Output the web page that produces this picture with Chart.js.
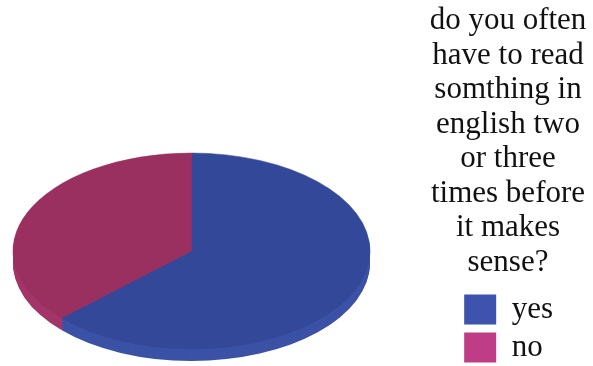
<!DOCTYPE html>
<html>
<head>
<meta charset="utf-8">
<script src="https://cdn.jsdelivr.net/npm/chart.js@4.4.1/dist/chart.umd.min.js"></script>
<style>
  html, body { margin: 0; padding: 0; background: #fff; }
</style>
</head>
<body>
<canvas id="pie_chart" width="593" height="366"></canvas>
<script>
const labels = ['yes', 'no'];
const answers = [63, 37];
const titleLines = ['do you often', 'have to read', 'somthing in', 'english two',
                    'or three', 'times before', 'it makes', 'sense?'];

const faceColors = ['#34489a', '#9a305f'];
const sideColors = ['#3b52a6', '#a3366a'];
const legendColors = ['#3d53ad', '#bf3c86'];

// pick the first serif face the machine actually has
function findSerif() {
  const names = ['Liberation Serif', 'DejaVu Serif', 'Noto Serif', 'Times New Roman',
                 'Tinos', 'FreeSerif', 'Nimbus Roman', 'Georgia'];
  const probe = document.createElement('canvas').getContext('2d');
  const sample = 'do you often have to read 0123';
  probe.font = '40px monospace';
  const mono = probe.measureText(sample).width;
  probe.font = '40px sans-serif';
  const sans = probe.measureText(sample).width;
  for (const name of names) {
    probe.font = '40px "' + name + '", monospace';
    const w1 = probe.measureText(sample).width;
    probe.font = '40px "' + name + '", sans-serif';
    const w2 = probe.measureText(sample).width;
    if (w1 !== mono && w2 !== sans) return '"' + name + '", serif';
  }
  return 'serif';
}

const serif = findSerif();

// squash the pie into an ellipse and give it a little depth
const flatPie = {
  id: 'flatPie',
  beforeDatasetsDraw(chart, args, opts) {
    const ctx = chart.ctx;
    const arcs = chart.getDatasetMeta(0).data;
    const { x, y, outerRadius } = arcs[0];
    const sx = opts.rx / outerRadius;
    const sy = opts.ry / outerRadius;

    // side wall: the slices pushed down one pixel at a time
    for (let k = opts.depth; k > 0; k--) {
      arcs.forEach((arc, i) => {
        ctx.save();
        ctx.translate(opts.cx, opts.cy + k);
        ctx.scale(sx, sy);
        ctx.translate(-x, -y);
        ctx.fillStyle = sideColors[i];
        ctx.beginPath();
        ctx.moveTo(x, y);
        ctx.arc(x, y, outerRadius, arc.startAngle, arc.endAngle);
        ctx.closePath();
        ctx.fill();
        ctx.restore();
      });
    }

    ctx.save();
    ctx.translate(opts.cx, opts.cy);
    ctx.scale(sx, sy);
    ctx.translate(-x, -y);
  },
  afterDatasetsDraw(chart) {
    chart.ctx.restore();
  }
};

// question text stacked above the legend
const sideTitle = {
  id: 'sideTitle',
  afterDraw(chart, args, opts) {
    const ctx = chart.ctx;
    ctx.save();
    ctx.font = opts.font;
    ctx.fillStyle = opts.color;
    ctx.textAlign = 'center';
    ctx.textBaseline = 'alphabetic';
    opts.lines.forEach((line, i) => {
      ctx.fillText(line, opts.x, opts.top + i * opts.lineHeight);
    });
    ctx.restore();
  }
};

const ctx = document.getElementById('pie_chart').getContext('2d');

const chart = new Chart(ctx, {
  type: 'pie',
  data: {
    labels: labels,
    datasets: [{
      data: answers,
      backgroundColor: faceColors,
      borderColor: faceColors,
      borderWidth: 0.3,
      clip: false
    }]
  },
  options: {
    responsive: false,
    animation: false,
    events: [],
    layout: {
      padding: { top: 200, right: 30, bottom: -4, left: 0 }
    },
    plugins: {
      tooltip: { enabled: false },
      legend: {
        position: 'right',
        align: 'end',
        labels: {
          font: { family: serif, size: 31 },
          color: '#111',
          boxWidth: 32,
          boxHeight: 30,
          padding: 7,
          generateLabels: () => labels.map((text, i) => ({
            text: text,
            fillStyle: legendColors[i],
            strokeStyle: legendColors[i],
            lineWidth: 0,
            fontColor: '#111',
            hidden: false,
            index: i
          }))
        }
      },
      flatPie: { cx: 191.5, cy: 251, rx: 178.5, ry: 98, depth: 12 },
      sideTitle: {
        lines: titleLines,
        x: 508,
        top: 29,
        lineHeight: 34.5,
        font: '31px ' + serif,
        color: '#111'
      }
    }
  },
  plugins: [flatPie, sideTitle]
});
</script>
</body>
</html>
